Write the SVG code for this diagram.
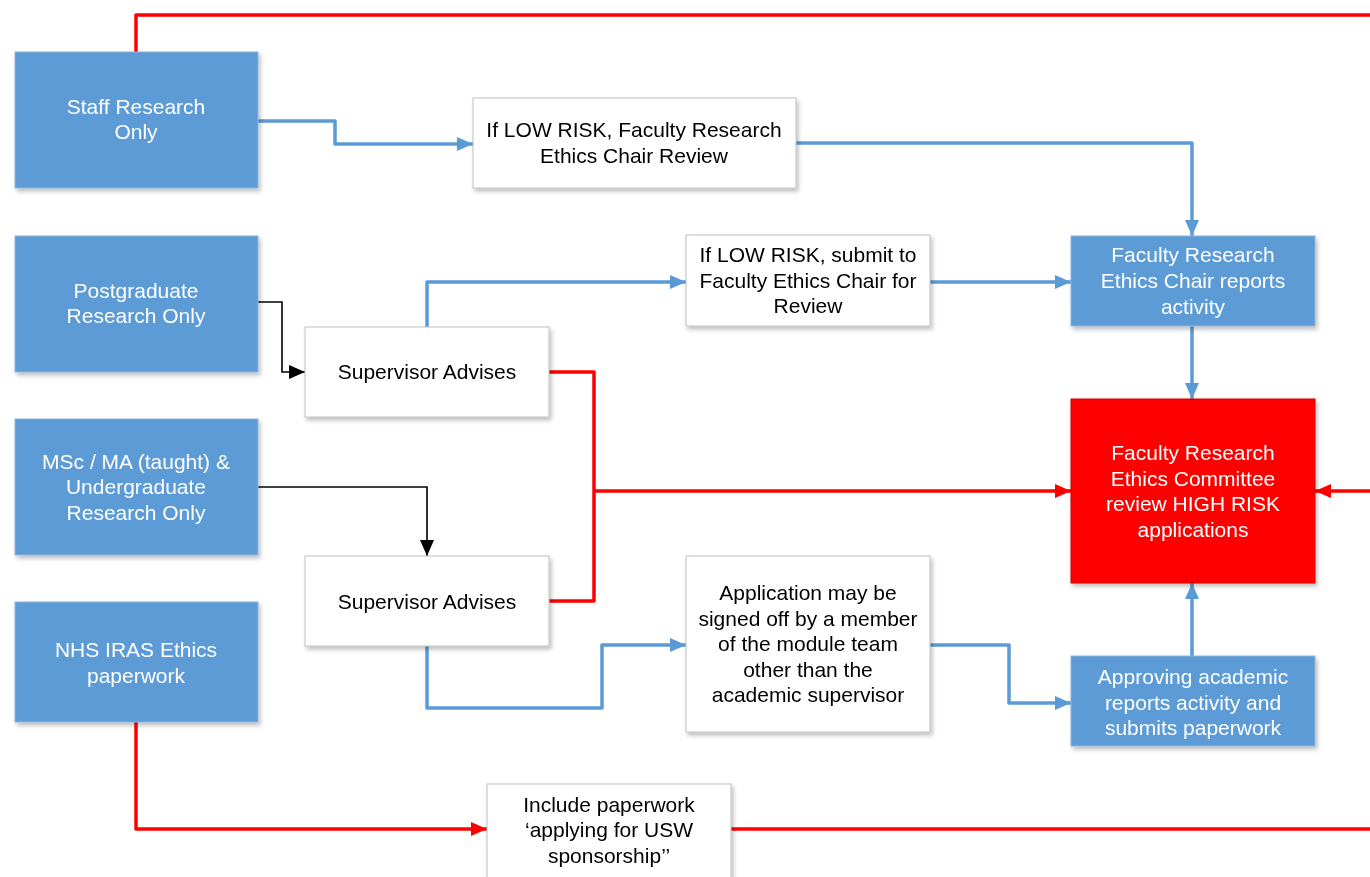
<svg xmlns="http://www.w3.org/2000/svg" width="1370" height="877" viewBox="0 0 1370 877">
<style>
.t{font-family:"Liberation Sans",Arial,sans-serif;font-size:21px;text-anchor:middle}
.w{fill:#ffffff}
.k{fill:#000000}
.bb{fill:#5B9BD5;stroke:#8FB4DE;stroke-width:1}
.wb{fill:#ffffff;stroke:#BFBFBF;stroke-width:1}
.rb{fill:#FF0000;stroke:#D00000;stroke-width:1}
.cb{fill:none;stroke:#5B9BD5;stroke-width:3.5;stroke-linejoin:round}
.cr{fill:none;stroke:#FF0000;stroke-width:3.5;stroke-linejoin:round}
.ck{fill:none;stroke:#000000;stroke-width:1.6}
</style>
<defs>
<filter id="sh" x="-10%" y="-10%" width="125%" height="130%">
<feDropShadow dx="2" dy="3" stdDeviation="2" flood-color="#000" flood-opacity="0.25"/>
</filter>
<marker id="ab" markerUnits="userSpaceOnUse" markerWidth="18" markerHeight="18" refX="16" refY="9" orient="auto"><path d="M0,2 L16,9 L0,16 Z" fill="#5B9BD5"/></marker>
<marker id="ar" markerUnits="userSpaceOnUse" markerWidth="18" markerHeight="18" refX="16" refY="9" orient="auto"><path d="M0,2 L16,9 L0,16 Z" fill="#FF0000"/></marker>
<marker id="ak" markerUnits="userSpaceOnUse" markerWidth="18" markerHeight="18" refX="16" refY="9" orient="auto"><path d="M0,2 L16,9 L0,16 Z" fill="#000000"/></marker>
</defs>

<g id="connectors">
<path class="cr" d="M136,52 V15 H1372"/>
<path class="cb" d="M258,121 H335 V144 H473" marker-end="url(#ab)"/>
<path class="cb" d="M796,143 H1192 V236" marker-end="url(#ab)"/>
<path class="ck" d="M258,302 H282 V372 H305" marker-end="url(#ak)"/>
<path class="cb" d="M427,327 V282 H686" marker-end="url(#ab)"/>
<path class="cb" d="M930,282 H1071" marker-end="url(#ab)"/>
<path class="cb" d="M1192,326 V399" marker-end="url(#ab)"/>
<path class="cr" d="M549,372 H594 V601 H549"/>
<path class="cr" d="M594,491 H1071" marker-end="url(#ar)"/>
<path class="ck" d="M258,487 H427 V556" marker-end="url(#ak)"/>
<path class="cb" d="M427,646 V708 H602 V645 H686" marker-end="url(#ab)"/>
<path class="cb" d="M930,645 H1009 V703 H1071" marker-end="url(#ab)"/>
<path class="cb" d="M1192,656 V583" marker-end="url(#ab)"/>
<path class="cr" d="M1372,491 H1315" marker-end="url(#ar)"/>
<path class="cr" d="M136,722 V829 H487" marker-end="url(#ar)"/>
<path class="cr" d="M731,829 H1372"/>
</g>

<g id="staff" filter="url(#sh)">
<rect class="bb" x="15" y="52" width="243" height="136"/>
<text class="t w" x="136" y="114">Staff Research</text>
<text class="t w" x="136" y="139">Only</text>
</g>
<g id="postgrad" filter="url(#sh)">
<rect class="bb" x="15" y="236" width="243" height="136"/>
<text class="t w" x="136" y="298">Postgraduate</text>
<text class="t w" x="136" y="323">Research Only</text>
</g>
<g id="msc" filter="url(#sh)">
<rect class="bb" x="15" y="419" width="243" height="136"/>
<text class="t w" x="136" y="469">MSc / MA (taught) &amp;</text>
<text class="t w" x="136" y="494">Undergraduate</text>
<text class="t w" x="136" y="520">Research Only</text>
</g>
<g id="nhs" filter="url(#sh)">
<rect class="bb" x="15" y="602" width="243" height="120"/>
<text class="t w" x="136" y="657">NHS IRAS Ethics</text>
<text class="t w" x="136" y="683">paperwork</text>
</g>
<g id="lowrisk1" filter="url(#sh)">
<rect class="wb" x="473" y="98" width="323" height="90"/>
<text class="t k" x="634" y="137">If LOW RISK, Faculty Research</text>
<text class="t k" x="634" y="163">Ethics Chair Review</text>
</g>
<g id="supervisor1" filter="url(#sh)">
<rect class="wb" x="305" y="327" width="244" height="90"/>
<text class="t k" x="427" y="379">Supervisor Advises</text>
</g>
<g id="supervisor2" filter="url(#sh)">
<rect class="wb" x="305" y="556" width="244" height="90"/>
<text class="t k" x="427" y="609">Supervisor Advises</text>
</g>
<g id="lowrisk2" filter="url(#sh)">
<rect class="wb" x="686" y="235" width="244" height="91"/>
<text class="t k" x="808" y="262">If LOW RISK, submit to</text>
<text class="t k" x="808" y="288">Faculty Ethics Chair for</text>
<text class="t k" x="808" y="313">Review</text>
</g>
<g id="application" filter="url(#sh)">
<rect class="wb" x="686" y="556" width="244" height="176"/>
<text class="t k" x="808" y="600">Application may be</text>
<text class="t k" x="808" y="626">signed off by a member</text>
<text class="t k" x="808" y="651">of the module team</text>
<text class="t k" x="808" y="677">other than the</text>
<text class="t k" x="808" y="702">academic supervisor</text>
</g>
<g id="include" filter="url(#sh)">
<rect class="wb" x="487" y="784" width="244" height="96"/>
<text class="t k" x="609" y="812">Include paperwork</text>
<text class="t k" x="609" y="837">‘applying for USW</text>
<text class="t k" x="609" y="863">sponsorship’’</text>
</g>
<g id="chairreports" filter="url(#sh)">
<rect class="bb" x="1071" y="236" width="244" height="90"/>
<text class="t w" x="1193" y="262">Faculty Research</text>
<text class="t w" x="1193" y="288">Ethics Chair reports</text>
<text class="t w" x="1193" y="314">activity</text>
</g>
<g id="committee" filter="url(#sh)">
<rect class="rb" x="1071" y="399" width="244" height="184"/>
<text class="t w" x="1193" y="460">Faculty Research</text>
<text class="t w" x="1193" y="486">Ethics Committee</text>
<text class="t w" x="1193" y="511">review HIGH RISK</text>
<text class="t w" x="1193" y="537">applications</text>
</g>
<g id="approving" filter="url(#sh)">
<rect class="bb" x="1071" y="656" width="244" height="90"/>
<text class="t w" x="1193" y="684">Approving academic</text>
<text class="t w" x="1193" y="710">reports activity and</text>
<text class="t w" x="1193" y="735">submits paperwork</text>
</g>
</svg>
